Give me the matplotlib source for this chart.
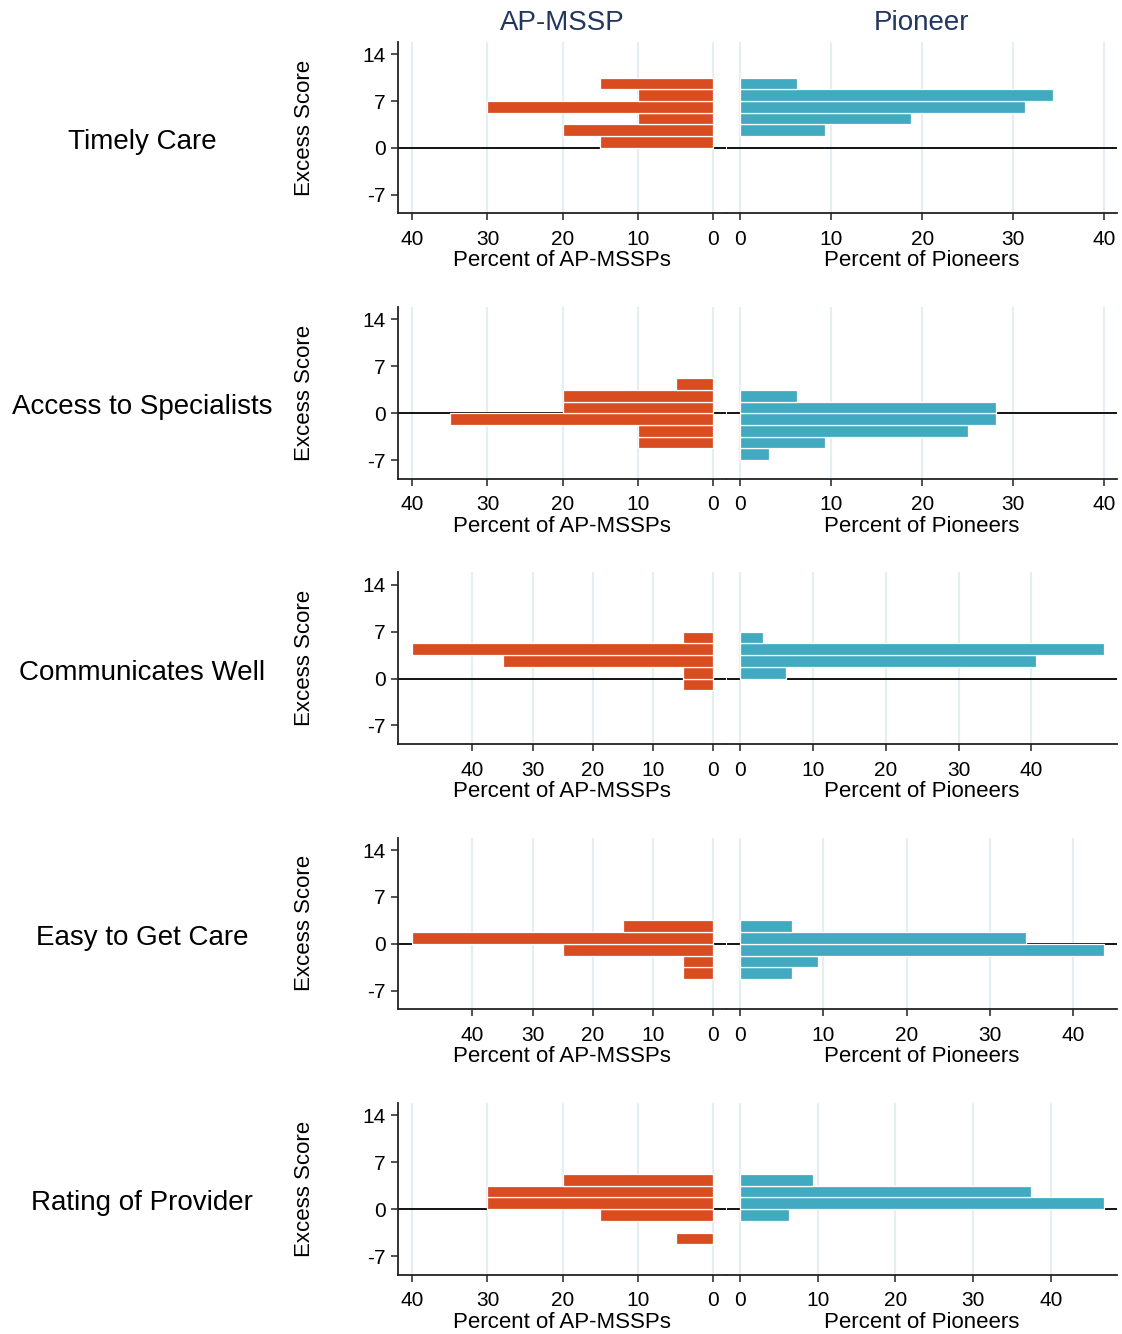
import matplotlib
matplotlib.use("Agg")
import matplotlib.pyplot as plt

plt.rcParams["font.family"] = ["Liberation Sans", "DejaVu Sans"]
plt.rcParams["axes.unicode_minus"] = False

# histogram bin width on the excess-score axis
BIN = 1.75

measures = ["Timely Care", "Access to Specialists", "Communicates Well",
            "Easy to Get Care", "Rating of Provider"]

# lower bin edges and percent of AP-MSSPs falling in each bin
ap_edges = [
    [0, 1.75, 3.5, 5.25, 7, 8.75],
    [-5.25, -3.5, -1.75, 0, 1.75, 3.5],
    [-1.75, 0, 1.75, 3.5, 5.25],
    [-5.25, -3.5, -1.75, 0, 1.75],
    [-5.25, -1.75, 0, 1.75, 3.5],
]
ap_pct = [
    [15, 20, 10, 30, 10, 15],
    [10, 10, 35, 20, 20, 5],
    [5, 5, 35, 50, 5],
    [5, 5, 25, 50, 15],
    [5, 15, 30, 30, 20],
]

# lower bin edges and percent of Pioneers falling in each bin
pio_edges = [
    [1.75, 3.5, 5.25, 7, 8.75],
    [-7, -5.25, -3.5, -1.75, 0, 1.75],
    [0, 1.75, 3.5, 5.25],
    [-5.25, -3.5, -1.75, 0, 1.75],
    [-1.75, 0, 1.75, 3.5],
]
pio_pct = [
    [9.375, 18.75, 31.25, 34.375, 6.25],
    [3.125, 9.375, 25, 28.125, 28.125, 6.25],
    [6.25, 40.625, 50, 3.125],
    [6.25, 9.375, 43.75, 34.375, 6.25],
    [6.25, 46.875, 37.5, 9.375],
]

x_ticks = [0, 10, 20, 30, 40]
y_ticks = [-7, 0, 7, 14]

ORANGE = "#d94c20"
TEAL = "#41aac1"
NAVY = "#22365e"
GRID = "#e6eef2"

W, H = 1122, 1334
fig = plt.figure(figsize=(W / 100, H / 100), dpi=100, facecolor="white")

ROW_STEP = 265.3
TOP0, BOT0 = 41.7, 213.3
LX, LW = 398.3, 327.7
RX, RW = 727.3, 389.7


def rect(x0, top, w, bottom):
    return [x0 / W, 1 - bottom / H, w / W, (bottom - top) / H]


def style(ax):
    ax.set_ylim(-9.75, 15.85)
    ax.set_xticks(x_ticks)
    ax.grid(axis="x", color=GRID, lw=1.6, zorder=0)
    ax.set_axisbelow(True)
    ax.axhline(0, color="black", lw=1.3, zorder=1)
    for s in ("top", "right"):
        ax.spines[s].set_visible(False)
    ax.spines["bottom"].set_color("#222222")
    ax.spines["bottom"].set_linewidth(1.3)
    ax.tick_params(axis="x", direction="out", length=5, width=1.1,
                   labelsize=15, pad=7, color="#222222")


for i, name in enumerate(measures):
    top = TOP0 + i * ROW_STEP
    bot = BOT0 + i * ROW_STEP

    # AP-MSSP panel: x axis runs right to left
    axl = fig.add_axes(rect(LX, top, LW, bot))
    style(axl)
    axl.barh(ap_edges[i], ap_pct[i], height=BIN, align="edge",
             color=ORANGE, edgecolor="white", linewidth=0.9, zorder=2)
    m = max(40, max(ap_pct[i]))
    axl.set_xlim(m * 1.046, -m * 0.042)
    axl.set_yticks(y_ticks)
    axl.spines["left"].set_color("#222222")
    axl.spines["left"].set_linewidth(1.3)
    axl.tick_params(axis="y", direction="out", length=5, width=1.1,
                    labelsize=15, pad=4, color="#222222")
    axl.set_xlabel("Percent of AP-MSSPs", fontsize=16, labelpad=1)

    # Pioneer panel
    axr = fig.add_axes(rect(RX, top, RW, bot))
    style(axr)
    axr.barh(pio_edges[i], pio_pct[i], height=BIN, align="edge",
             color=TEAL, edgecolor="white", linewidth=0.9, zorder=2)
    m = max(40, max(pio_pct[i]))
    axr.set_xlim(-m * 0.035, m * 1.035)
    axr.spines["left"].set_visible(False)
    axr.set_yticks([])
    axr.set_xlabel("Percent of Pioneers", fontsize=16, labelpad=1)

    fig.text(305 / W, 1 - (top + bot) / 2 / H, "Excess Score", rotation=90,
             ha="center", va="center", fontsize=16)
    fig.text(142 / W, 1 - (142 + i * ROW_STEP) / H, name,
             ha="center", va="center", fontsize=20)

fig.text(562 / W, 1 - 23 / H, "AP-MSSP", ha="center", va="center",
         fontsize=20, color=NAVY)
fig.text(922 / W, 1 - 23 / H, "Pioneer", ha="center", va="center",
         fontsize=20, color=NAVY)

fig.savefig("out.png", dpi=100, facecolor="white")
